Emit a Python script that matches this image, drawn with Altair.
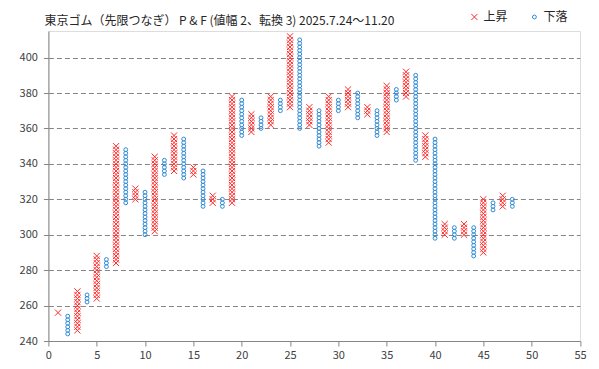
import altair as alt
import pandas as pd

# P&F columns (box size 2, reversal 3)
cols = list(range(1, 49))
kinds = ["X", "O", "X", "O", "X", "O", "X", "O", "X", "O",
         "X", "O", "X", "O", "X", "O", "X", "O", "X", "O",
         "X", "O", "X", "O", "X", "O", "X", "O", "X", "O",
         "X", "O", "X", "O", "X", "O", "X", "O", "X", "O",
         "X", "O", "X", "O", "X", "O", "X", "O"]
lows = [256, 244, 246, 262, 264, 282, 284, 318, 320, 300,
        302, 334, 336, 332, 334, 316, 318, 316, 318, 356,
        358, 360, 362, 370, 372, 360, 362, 350, 352, 370,
        372, 366, 368, 356, 358, 376, 378, 342, 344, 298,
        300, 298, 300, 288, 290, 314, 316, 316]
highs = [256, 254, 268, 266, 288, 286, 350, 348, 326, 324,
         344, 342, 356, 354, 338, 336, 322, 320, 378, 376,
         368, 366, 378, 376, 412, 410, 372, 370, 378, 376,
         382, 380, 372, 370, 384, 382, 392, 390, 356, 354,
         306, 304, 306, 304, 320, 318, 322, 320]
BOX = 2
labels = {"X": "上昇", "O": "下落"}

rows = []
for c, k, lo, hi in zip(cols, kinds, lows, highs):
    for v in range(lo, hi + 1, BOX):
        rows.append({"col": c, "price": v, "type": labels[k]})
df = pd.DataFrame(rows)

XPATH = "M-1,-1L1,1M-1,1L1,-1"
FONT = "Noto Sans CJK JP"
GRAY = "#868686"

legend = alt.Legend(
    title=None, orient="none", direction="horizontal",
    legendX=420, legendY=-20,
    labelFont=FONT, labelFontSize=12, labelColor="#262626",
    symbolStrokeWidth=1, symbolSize=30, columnPadding=20, labelOffset=3,
)

chart = alt.Chart(df).mark_point(filled=False, strokeWidth=1, opacity=1).encode(
    x=alt.X("col:Q", scale=alt.Scale(domain=[0, 55], nice=False, zero=False),
            axis=alt.Axis(values=list(range(0, 56, 5)), grid=False, title=None,
                          labelFont=FONT, labelFontSize=11, labelColor="#404040",
                          domainColor=GRAY, tickColor=GRAY, tickSize=5, labelPadding=3,
                          labelFlush=False)),
    y=alt.Y("price:Q", scale=alt.Scale(domain=[240, 415], nice=False, zero=False),
            axis=alt.Axis(values=list(range(240, 401, 20)), grid=True, gridColor=GRAY,
                          gridDash=[5, 3], gridWidth=1, title=None,
                          labelFont=FONT, labelFontSize=11, labelColor="#404040",
                          domainColor=GRAY, tickColor=GRAY, tickSize=5, labelPadding=6)),
    color=alt.Color("type:N", scale=alt.Scale(domain=["上昇", "下落"], range=["#ff2a2a", "#2e8bd6"]),
                    legend=legend),
    shape=alt.Shape("type:N", scale=alt.Scale(domain=["上昇", "下落"], range=[XPATH, "circle"]),
                    legend=legend),
    size=alt.Size("type:N", scale=alt.Scale(domain=["上昇", "下落"], range=[38, 15]), legend=None),
).properties(
    width=531.6, height=310,
    autosize=alt.AutoSizeParams(type="none"),
    padding={"left": 40.4, "top": 23, "right": 11, "bottom": 20},
    title=alt.TitleParams("東京ゴム（先限つなぎ）  P & F (値幅 2、転換 3)   2025.7.24～11.20",
                          anchor="start", frame="group", fontSize=12, fontWeight="normal",
                          font=FONT, color="#262626", dx=-4, dy=23, offset=6),
).configure_view(stroke=GRAY, strokeWidth=1).configure(background="white")

chart.save("out.html", embed_options={"renderer": "svg", "actions": False})
